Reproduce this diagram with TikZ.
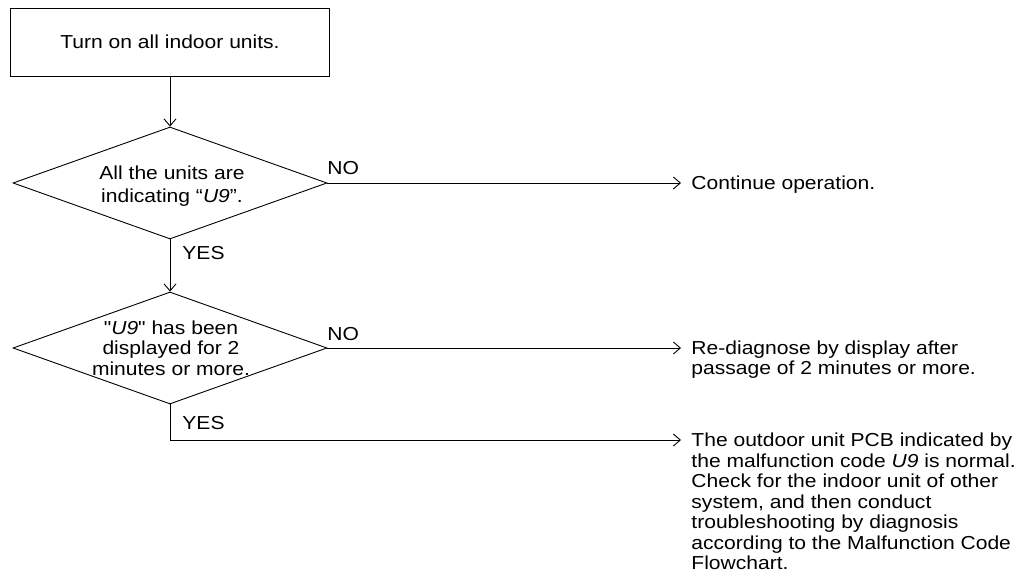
\documentclass[tikz,border=0pt]{standalone}
\usepackage{fontspec}
\setmainfont{Liberation Sans}[FakeStretch=1.12]
\newfontfamily\plainfont{Liberation Sans}[FakeStretch=1.12,Ligatures=TeXOff]
\usetikzlibrary{shapes.geometric,arrows.meta}
\newcommand\usym{{\itshape U9}}
\newcommand\sq{{\plainfont\symbol{34}}}
\begin{document}
\begin{tikzpicture}[x=1pt,y=-1pt,line width=0.9pt,
  flow/.style={-{Straight Barb[length=7pt,width=12pt]}},
  txt/.style={font=\fontsize{18.8}{20.5}\selectfont, inner sep=0pt},
  lbl/.style={txt, anchor=base west},
  dec/.style={diamond, draw, minimum width=314pt, minimum height=112pt, inner sep=0pt},
  stepbox/.style={draw, minimum width=319pt, minimum height=68pt, inner sep=0pt}]
\useasboundingbox[fill=white] (0,0) rectangle (1028,577);

\node[stepbox, txt] (start) at (170,42) {Turn on all indoor units.};

\node[dec] (d1) at (170,183) {};
\node[txt, align=center] (t1) at (172,186) {All the units are\\[2pt]indicating ``\usym''.};

\node[dec] (d2) at (170,348) {};
\node[txt, align=center] (t2) at (171,348) {\sq\usym\sq\ has been\\displayed for 2\\minutes or more.};

\node[lbl] (yes1) at (182,260) {YES};
\node[lbl] (no1) at (327,175) {NO};
\node[lbl] (no2) at (327,340) {NO};
\node[lbl] (yes2) at (182,429) {YES};

\node[lbl] (cont) at (691,190) {Continue operation.};
\node[lbl] (redo) at (691,354) {\vtop{\hbox{Re-diagnose by display after}\hbox{passage of 2 minutes or more.}}};
\node[lbl] (outd) at (691,446.5) {\vtop{%
  \hbox{The outdoor unit PCB indicated by}%
  \hbox{the malfunction code \usym\ is normal.}%
  \hbox{Check for the indoor unit of other}%
  \hbox{system, and then conduct}%
  \hbox{troubleshooting by diagnosis}%
  \hbox{according to the Malfunction Code}%
  \hbox{Flowchart.}}};

\coordinate (c3) at (170,440);

\draw[flow] (start.south) -- (d1.north);
\draw[flow] (d1.south) -- (d2.north);
\draw[flow, shorten >=10pt] (d1.east) -- (d1.east -| cont.west);
\draw[flow, shorten >=10pt] (d2.east) -- (d2.east -| redo.west);
\draw[flow, shorten >=10pt] (d2.south) -- (c3) -- (c3 -| outd.west);
\end{tikzpicture}
\end{document}
